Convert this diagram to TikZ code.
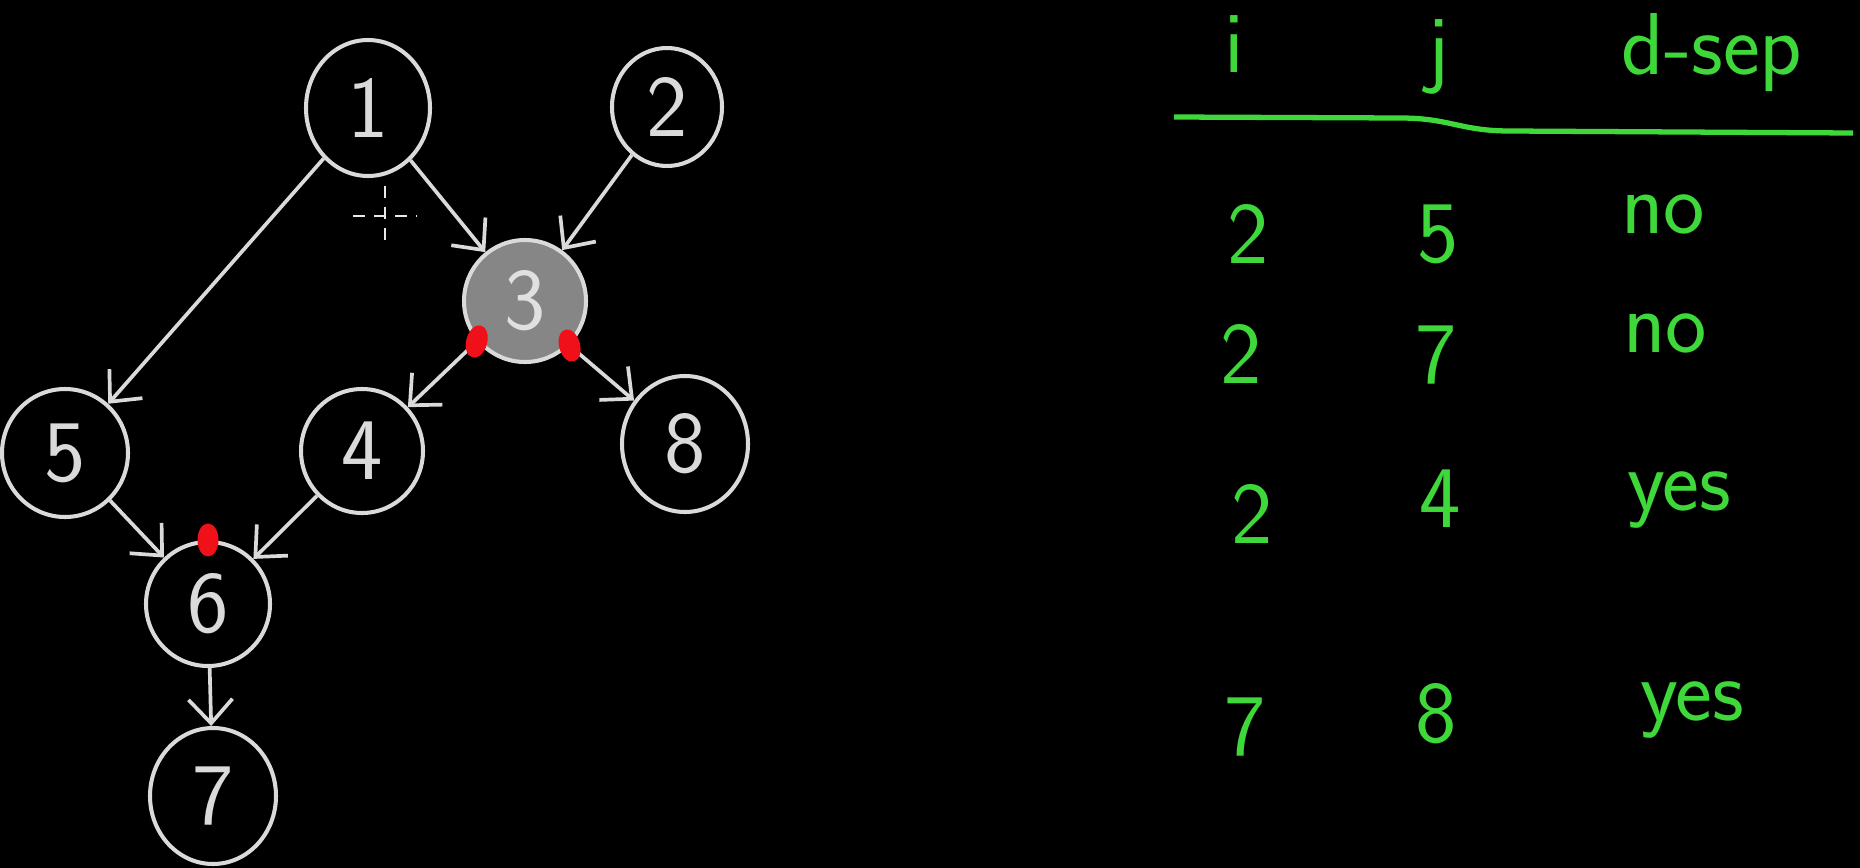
\documentclass[tikz,border=0pt]{standalone}
\usepackage{fontspec}
\usepackage{xcolor}
\usepackage{tikz}
\usetikzlibrary{positioning,arrows.meta,shapes.geometric}
\definecolor{cBoard}{HTML}{000000}
\definecolor{cChalk}{HTML}{DADADA}
\definecolor{cShade}{HTML}{868686}
\definecolor{cMark}{HTML}{F0101A}
\definecolor{cPen}{HTML}{3FD83A}
\tikzset{
  base/.style={ellipse,draw=cChalk,line width=1.15pt,text=cChalk,inner sep=0pt,minimum width=12.4mm,minimum height=12.4mm,font=\sffamily\fontsize{25}{28}\selectfont},
  vnode/.style={base}, hnode/.style={base,fill=cShade,text=cChalk!85},
  arr/.style={-{Straight Barb[length=2.4mm,width=4.4mm]},draw=cChalk,line width=1.05pt},
  rdot/.style={ellipse,fill=cMark,minimum width=2.1mm,minimum height=3.3mm,inner sep=0pt},
  cell/.style={anchor=base,text=cPen,inner sep=0pt,font=\sffamily\fontsize{25}{28}\selectfont},
  hrule/.style={draw=cPen,line width=1.5pt},
  aimline/.style={draw=cChalk!60,line width=0.6pt,dash pattern=on 3.5pt off 2.5pt}}
\begin{document}
\begin{tikzpicture}[x=0.1mm,y=-0.1mm]
\fill[cBoard] (0,0) rectangle (1860,868);
\useasboundingbox (0,0) rectangle (1860,868);
% the graph
\node[vnode, minimum width=12.4mm, minimum height=13.6mm] (n1) at (368,108) {1};
\node[vnode, minimum width=11mm, minimum height=11.8mm] (n2) at (667,107) {2};
\node[hnode, minimum width=12.2mm, minimum height=12.2mm] (n3) at (525,301) {3};
\node[vnode, minimum width=12.6mm, minimum height=12.8mm] (n5) at (65,453) {5};
\node[vnode, minimum width=12.2mm] (n4) at (362,451) {4};
\node[vnode, minimum width=12.6mm, minimum height=13.6mm] (n8) at (685,444) {8};
\node[vnode] (n6) at (208,604) {6};
\node[vnode, minimum width=12.6mm, minimum height=13.6mm] (n7) at (213,796) {7};
\draw[arr] (n1)--(n5); \draw[arr] (n1)--(n3); \draw[arr] (n2)--(n3);
\draw[arr] (n3.220)--(n4); \draw[arr] (n3.-45)--(n8);
\draw[arr] (n5)--(n6); \draw[arr] (n4)--(n6); \draw[arr] (n6)--(n7);
\node[rdot, rotate=-15] (m34) at (n3.220) {};
\node[rdot, rotate=15] (m38) at (n3.-45) {};
\node[rdot] (m6) at (n6.north) {};
% pointer left on the board
\coordinate (aim) at (385,216);
\draw[aimline] (aim) ++(0,-30) -- ++(0,60);
\draw[aimline] (aim) ++(-32,0) -- ++(64,0);
% the table
\node[cell] (hi) at (1234,72) {i};
\node[cell] (hj) at (1438,76) {j};
\node[cell] (hsep) at (1712,74) {d-sep};
\coordinate (ruleL) at (1174,117); \coordinate (ruleR) at (1853,133);
\draw[hrule] (ruleL) -- (1400,118) .. controls (1450,118) and (1460,131) .. (1510,131) -- (ruleR);
\node[cell] (r1i) at (1248,263) {2}; \node[cell] (r1j) at (1438,262) {5}; \node[cell] (r1s) at (1663,233) {no};
\node[cell] (r2i) at (1241,383) {2}; \node[cell] (r2j) at (1436,383) {7}; \node[cell] (r2s) at (1665,352) {no};
\node[cell] (r3i) at (1252,543) {2}; \node[cell] (r3j) at (1440,527) {4}; \node[cell] (r3s) at (1679,510) {yes};
\node[cell] (r4i) at (1245,755) {7}; \node[cell] (r4j) at (1436,742) {8}; \node[cell] (r4s) at (1692,720) {yes};
\end{tikzpicture}
\end{document}
